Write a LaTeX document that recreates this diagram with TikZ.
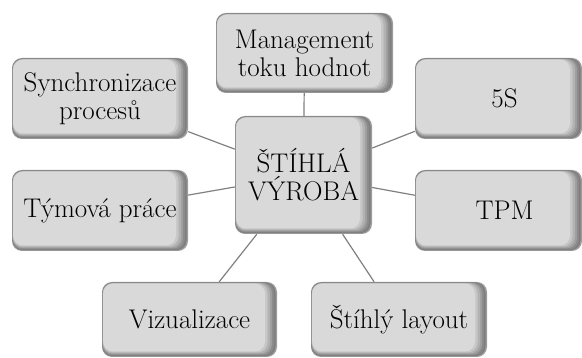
\documentclass[tikz,border=0pt]{standalone}
\usepackage{fontspec}
\usetikzlibrary{backgrounds}
\definecolor{linkgray}{HTML}{808080}

\begin{document}
\begin{tikzpicture}[x=1pt,y=1pt,
  % rounded grey box with a soft inner shade on its right and bottom edges
  box/.style={rectangle, rounded corners=10pt, fill=black!39, inner sep=0pt,
    align=center, text=black, font=\fontsize{27}{28}\selectfont,
    path picture={
      \foreach \r/\b/\t/\l/\c in {
          1.5/0.8/0.5/0.3/black!51,
          3/1.5/0.8/0.5/black!46,
          5/2.5/1/0.7/black!38,
          7/3.5/1.2/0.9/black!30,
          9.5/4.5/1.4/1/black!22,
          12/5.5/1.6/1.1/black!15}
        \fill[\c, rounded corners=10pt]
          ([xshift=\l, yshift=-\t]path picture bounding box.north west) rectangle
          ([xshift=-\r, yshift=\b]path picture bounding box.south east);
    }},
  link/.style={draw=linkgray, line width=1.2pt}]
\useasboundingbox (0,0) rectangle (582,358);

% centre
\node[box, minimum width=137, minimum height=118] (c) at (303.5,183) {ŠTÍHLÁ\\VÝROBA};

% surrounding topics
\node[box, minimum width=177, minimum height=80] (m) at (304.5,305) {Management\\toku hodnot};
\node[box, minimum width=176, minimum height=81] (s) at (100,259.5) {Synchronizace\\procesů};
\node[box, minimum width=167, minimum height=81] (f) at (498.5,259.5) {\hspace*{12pt}5S};
\node[box, minimum width=176, minimum height=81] (t) at (100,147.5) {Týmová práce};
\node[box, minimum width=167, minimum height=81] (p) at (498.5,147.5) {\hspace*{12pt}TPM};
\node[box, minimum width=175, minimum height=75] (v) at (189.5,38.5) {Vizualizace};
\node[box, minimum width=176, minimum height=75] (l) at (399,38.5) {Štíhlý layout};

% spokes from the centre
\begin{scope}[on background layer]
  \foreach \n in {m,s,f,t,p,v,l}
    \draw[link] (c) -- (\n);
\end{scope}
\end{tikzpicture}
\end{document}
